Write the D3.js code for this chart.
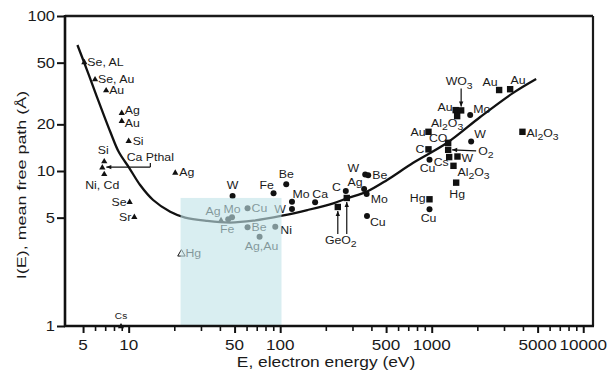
<!DOCTYPE html>
<html>
<head>
<meta charset="utf-8">
<script src="https://cdn.jsdelivr.net/npm/d3@7"></script>
<style>
  body { margin: 0; background: #fff; }
  text { font-family: "Liberation Sans", Arial, Helvetica, sans-serif; }
</style>
</head>
<body>
<svg id="chart"></svg>
<script>
// Axis ranges and ticks
const xDomain = [3.8, 11600];
const yDomain = [1, 100];
const xTickLabels = [5, 10, 50, 100, 500, 1000, 5000, 10000];
const xMinorTicks = [6, 7, 8, 9, 20, 30, 40, 60, 70, 80, 90, 200, 300, 400, 600, 700, 800, 900,
                     2000, 3000, 4000, 6000, 7000, 8000, 9000];
const yTickLabels = [1, 5, 10, 20, 50, 100];

// Universal curve (eV, Å)
const curveE = [4.59, 5.31, 6.18, 7.57, 8.59, 10.1, 11.9, 14.5, 18.8, 23.6, 33.0, 46.8, 66.4,
                103, 151, 224, 277, 375, 508, 755, 1265, 2090, 3450, 4890];
const curveI = [65.0, 44.8, 30.0, 17.85, 13.3, 10.45, 8.12, 6.5, 5.46, 5.0, 4.76, 4.65, 4.78,
                5.15, 5.6, 6.19, 6.67, 7.38, 8.75, 11.3, 15.2, 22.3, 31.9, 39.2];

// Triangles
const triE = [5.1, 6.0, 7.1, 9.0, 9.0, 10.0, 6.9, 6.7, 6.9, 10.15, 10.9, 20.3, 22.3, 8.9, 40.7];
const triI = [50.5, 39.2, 33.3, 23.8, 21.1, 15.7, 11.6, 10.6, 9.6, 6.34, 5.07, 9.8, 2.94, 1.0, 4.83];
const triLabel = ["Se, AL", "Se, Au", "Au", "Ag", "Au", "Si", "Si", "Ca Pthal", "Ni, Cd", "Se", "Sr",
                  "Ag", "Hg", "Cs", "Ag"];
const triHollow = [false, false, false, false, false, false, false, false, false, false, false,
                   false, true, false, false];

// Circles
const circE = [48.5, 90.4, 109.6, 119.6, 119.6, 48.1, 45.4, 60.9, 60.9, 92.8, 73.1, 170, 271,
               358, 372, 364, 381, 374, 1794, 1821, 967, 967];
const circI = [6.9, 7.18, 8.21, 6.34, 5.69, 5.03, 4.88, 5.74, 4.33, 4.37, 3.77, 6.28, 7.43,
               7.65, 7.1, 9.5, 9.4, 5.13, 23.0, 15.5, 11.8, 5.66];
const circLabel = ["W", "Fe", "Be", "Mo", "W", "Mo", "Fe", "Cu", "Be", "Ni", "Ag,Au", "Ca", "C",
                   "Ag", "Mo", "W", "Be", "Cu", "Mo", "W", "Cu", "Cu"];

// Squares
const sqE = [240, 275, 1439, 1564, 1472, 2786, 3293, 952, 1284, 1284, 1304, 952, 1479, 1392,
             1450, 967, 3970];
const sqI = [5.86, 6.7, 24.7, 24.6, 22.6, 33.3, 33.7, 17.9, 15.2, 13.7, 12.3, 13.8, 12.4, 10.8,
             8.41, 6.57, 17.9];
const sqLabel = ["GeO_2", "", "Au", "WO_3", "Al_2O_3", "Au", "Au", "Au", "CO", "O_2", "Cs", "C", "W",
                 "Al_2O_3", "Hg", "Hg", "Al_2O_3"];

// Shaded box
const shadeE = [22, 102];
const shadeI = [1, 6.7];

// Label placement: [dx, dy, anchor] from the marker
const triPlace = [[3, 0, "start"], [3, 0, "start"], [3, 0, "start"], [3, -2.5, "start"], [3, 2, "start"],
  [4, 0, "start"], [-1, -11, "middle"], [48, -10, "middle"], [-2, 11, "middle"], [-3, 0, "end"],
  [-3, 0, "end"], [4, 0, "start"], [4, 0, "start"], [0, -10, "middle"], [-8, -9, "middle"]];
const circPlace = [[0, -11, "middle"], [-7, -8, "middle"], [0, -10, "middle"], [9, -8, "middle"],
  [-6, 0, "end"], [0, -8, "middle"], [-1, 10, "middle"], [4, 0, "start"], [4, 0, "start"],
  [5, 3, "start"], [2, 9, "middle"], [5, -8, "middle"], [-5, -4, "end"], [-9, -7, "middle"],
  [4, 5, "start"], [-6, -6, "end"], [4, 0, "start"], [3, 6, "start"], [3, -6, "start"],
  [3, -7, "start"], [-2, 8, "middle"], [-1, 9, "middle"]];
const sqPlace = [[3, 33, "middle"], [0, 0, "start"], [-3, -3, "end"], [-2, -29, "middle"],
  [-10, 7, "middle"], [-9, -8, "middle"], [8, -9, "middle"], [-3, 0, "end"], [-10, -5, "middle"],
  [30, 1, "start"], [-8, 5, "middle"], [-4, 0, "end"], [4, 2, "start"], [4, 6, "start"],
  [1, 11, "middle"], [-4, -1, "end"], [4, 1, "start"]];

const width = 608, height = 379;
const plot = { left: 65, right: 593, top: 16, bottom: 326 };

const svg = d3.select("#chart").attr("width", width).attr("height", height);

const x = d3.scaleLog().domain(xDomain).range([plot.left, plot.right]);
const y = d3.scaleLog().domain(yDomain).range([plot.bottom, plot.top]);

// text that is a bit wider than the font, with _n subscripts
function addText(parent, px, py, str, size, sx, anchor, fill) {
  const t = parent.append("text")
    .attr("transform", `translate(${px},${py}) scale(${sx},1)`)
    .attr("text-anchor", anchor)
    .attr("font-size", size)
    .attr("fill", fill || "#1a1a1a");
  let sub = false;
  str.split(/(_\d)/).filter(s => s).forEach(s => {
    if (s[0] === "_") {
      t.append("tspan").attr("dy", size * 0.3).attr("font-size", size * 0.85).text(s.slice(1));
      sub = true;
    } else {
      t.append("tspan").attr("dy", sub ? -size * 0.3 : 0).text(s);
      sub = false;
    }
  });
  return t;
}

function arrow(g, x1, y1, x2, y2) {
  g.append("line").attr("x1", x1).attr("y1", y1).attr("x2", x2).attr("y2", y2)
    .attr("stroke", "#111").attr("stroke-width", 1.2);
  const a = Math.atan2(y2 - y1, x2 - x1), L = 5, w = 2.2;
  const bx = x2 - L * Math.cos(a), by = y2 - L * Math.sin(a);
  g.append("path")
    .attr("d", `M${x2},${y2}L${bx - w * Math.sin(a)},${by + w * Math.cos(a)}L${bx + w * Math.sin(a)},${by - w * Math.cos(a)}Z`)
    .attr("fill", "#111");
}

// frame top and right
svg.append("line").attr("x1", plot.left).attr("x2", plot.right).attr("y1", plot.top).attr("y2", plot.top)
  .attr("stroke", "#1a1a1a").attr("stroke-width", 2.4);
svg.append("line").attr("x1", plot.right).attr("x2", plot.right).attr("y1", plot.top).attr("y2", plot.bottom)
  .attr("stroke", "#1a1a1a").attr("stroke-width", 2.2);

// curve
const line = d3.line()
  .x(d => x(d[0]))
  .y(d => y(d[1]))
  .curve(d3.curveCatmullRom.alpha(0.5));
svg.append("path")
  .datum(curveE.map((e, i) => [e, curveI[i]]))
  .attr("d", line)
  .attr("fill", "none")
  .attr("stroke", "#111")
  .attr("stroke-width", 2.3);

const marks = svg.append("g");
const labels = svg.append("g");

// triangles
triE.forEach((e, i) => {
  const px = x(e), py = y(triI[i]);
  marks.append("path")
    .attr("transform", `translate(${px},${py + 0.5})`)
    .attr("d", d3.symbol().type(d3.symbolTriangle).size(triHollow[i] ? 24 : 17)())
    .attr("fill", triHollow[i] ? "#fff" : "#111")
    .attr("stroke", triHollow[i] ? "#111" : "none")
    .attr("stroke-width", 1);
  const p = triPlace[i];
  const size = triLabel[i] === "Cs" ? 9 : 11;
  addText(labels, px + p[0], py + p[1] + size * 0.36, triLabel[i], size, 1.12, p[2]);
});

// circles
circE.forEach((e, i) => {
  const px = x(e), py = y(circI[i]);
  marks.append("circle").attr("cx", px).attr("cy", py).attr("r", 3).attr("fill", "#111");
  const p = circPlace[i];
  addText(labels, px + p[0], py + p[1] + 11 * 0.36, circLabel[i], 11, 1.12, p[2]);
});

// squares
sqE.forEach((e, i) => {
  const px = x(e), py = y(sqI[i]);
  marks.append("rect").attr("x", px - 3.2).attr("y", py - 3.2).attr("width", 6.4).attr("height", 6.4)
    .attr("fill", "#111");
  const p = sqPlace[i];
  if (sqLabel[i]) addText(labels, px + p[0], py + p[1] + 11 * 0.36, sqLabel[i], 11, 1.12, p[2]);
});

// annotation arrows
const ann = svg.append("g");
{
  const wx = x(sqE[3]), wy = y(sqI[3]);
  arrow(ann, wx, wy - 22, wx, wy - 4);
  const g1x = x(sqE[0]), g1y = y(sqI[0]), g2x = x(sqE[1]), g2y = y(sqI[1]);
  arrow(ann, g1x, g1y + 27, g1x, g1y + 4);
  arrow(ann, g2x, g1y + 27, g2x, g2y + 4);
  const ox = x(sqE[9]), oy = y(sqI[9]);
  arrow(ann, ox + 28, oy + 1, ox + 4, oy);
  // Ca Pthal bracket
  const cx = x(triE[7]), cy = y(triI[7]), cEnd = x(13.9);
  arrow(ann, cEnd, cy, cx + 4, cy);
  ann.append("line").attr("x1", cEnd).attr("x2", cEnd).attr("y1", cy).attr("y2", cy - 4)
    .attr("stroke", "#111").attr("stroke-width", 1.2);
}

// translucent shaded box over the data
svg.append("rect")
  .attr("x", x(shadeE[0]))
  .attr("y", y(shadeI[1]))
  .attr("width", x(shadeE[1]) - x(shadeE[0]))
  .attr("height", y(shadeI[0]) - y(shadeI[1]))
  .attr("fill", "rgb(194,228,232)")
  .attr("opacity", 0.62);

// x axis
const gx = svg.append("g")
  .attr("transform", `translate(0,${plot.bottom})`)
  .call(d3.axisBottom(x).tickValues(xTickLabels.concat(xMinorTicks)).tickSize(7).tickFormat(""));
gx.select(".domain").remove();
gx.selectAll(".tick line")
  .attr("stroke", "#111")
  .attr("stroke-width", d => xTickLabels.includes(d) ? 2 : 1.6)
  .attr("y2", d => xTickLabels.includes(d) ? 7 : 5);
svg.append("line").attr("x1", plot.left - 1).attr("x2", plot.right + 1)
  .attr("y1", plot.bottom).attr("y2", plot.bottom)
  .attr("stroke", "#111").attr("stroke-width", 2.6);
xTickLabels.forEach(v => addText(svg, x(v), 350, String(v), 14.5, 1.18, "middle"));

// y axis
const gy = svg.append("g")
  .attr("transform", `translate(${plot.left},0)`)
  .call(d3.axisLeft(y).tickValues(yTickLabels).tickSize(8).tickFormat(""));
gy.select(".domain").remove();
gy.selectAll(".tick line").attr("stroke", "#111").attr("stroke-width", 2);
svg.append("line").attr("x1", plot.left).attr("x2", plot.left)
  .attr("y1", plot.top - 1).attr("y2", plot.bottom + 1)
  .attr("stroke", "#111").attr("stroke-width", 2.6);
yTickLabels.forEach(v => addText(svg, 55, y(v) + 5, String(v), 14, 1.18, "end"));

// axis titles
addText(svg, 326, 367, "E, electron energy (eV)", 14, 1.24, "middle");
svg.append("text")
  .attr("transform", "translate(26,185) rotate(-90) scale(1.33,1)")
  .attr("text-anchor", "middle")
  .attr("font-size", 13.5)
  .attr("fill", "#1a1a1a")
  .text("I(E), mean free path (Å)");
</script>
</body>
</html>
